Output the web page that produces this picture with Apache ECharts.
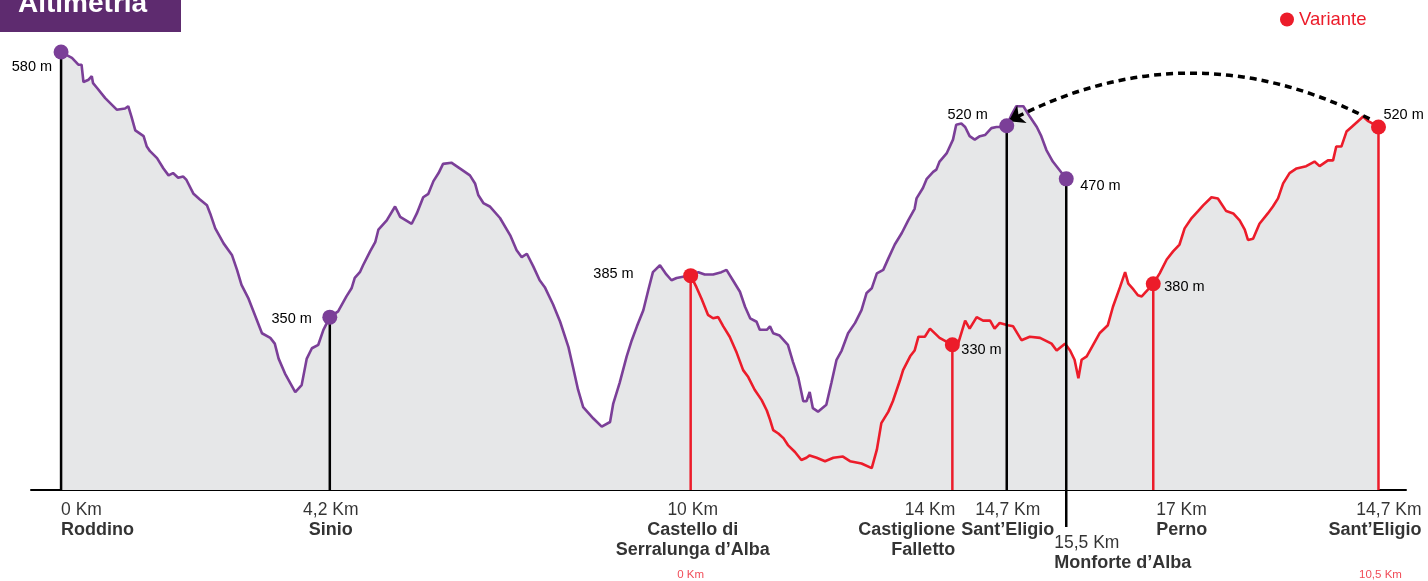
<!DOCTYPE html>
<html><head><meta charset="utf-8">
<script src="https://cdn.jsdelivr.net/npm/echarts@6/dist/echarts.min.js"></script>
<style>html,body{margin:0;padding:0;background:#fff}#c{width:1428px;height:581px}</style>
</head><body><div id="c"></div>
<script>
// ---- DATA (x = distance along the drawn profile in km, y = elevation in m) ----
const mainProfile = [[0,580],[0.17,575],[0.27,569],[0.32,569],[0.35,554],[0.43,556],[0.48,559],[0.50,553],[0.56,549],[0.69,540],[0.87,530],[1.00,531],[1.05,533],[1.10,524],[1.16,512],[1.29,507],[1.34,498],[1.39,494],[1.50,488],[1.60,479],[1.68,473],[1.75,475],[1.83,471],[1.91,472],[1.96,469],[2.07,457],[2.17,452],[2.28,447],[2.33,440],[2.41,427],[2.54,414],[2.67,404],[2.75,391],[2.82,378],[2.93,366],[3.00,356],[3.14,336],[3.27,332],[3.34,327],[3.40,314],[3.50,301],[3.66,285],[3.76,291],[3.84,314],[3.92,323],[4.02,326],[4.10,339],[4.20,350],[4.33,355],[4.46,368],[4.54,375],[4.59,384],[4.67,389],[4.72,395],[4.83,407],[4.91,415],[4.96,426],[5.09,434],[5.22,446],[5.30,437],[5.48,431],[5.56,440],[5.66,454],[5.74,457],[5.82,468],[5.90,475],[5.97,483],[6.10,484],[6.18,481],[6.26,478],[6.39,473],[6.47,466],[6.52,456],[6.60,449],[6.70,446],[6.86,436],[7.02,421],[7.12,408],[7.20,402],[7.28,405],[7.38,394],[7.48,382],[7.56,376],[7.69,361],[7.80,346],[7.93,324],[8.00,307],[8.08,287],[8.16,272],[8.32,262],[8.45,255],[8.58,259],[8.63,275],[8.73,293],[8.84,316],[8.92,330],[9.00,342],[9.10,356],[9.18,374],[9.25,389],[9.36,395],[9.46,387],[9.54,382],[9.62,384],[9.72,385],[9.84,386],[9.96,389],[10.06,387],[10.19,387],[10.32,389],[10.40,391],[10.50,382],[10.61,372],[10.69,359],[10.77,349],[10.87,346],[10.92,339],[11.03,339],[11.08,342],[11.13,336],[11.23,334],[11.36,326],[11.44,311],[11.52,298],[11.60,277],[11.65,277],[11.70,285],[11.75,271],[11.83,268],[11.96,274],[12.04,293],[12.12,313],[12.20,321],[12.30,336],[12.41,345],[12.51,356],[12.59,371],[12.67,375],[12.75,388],[12.85,391],[12.93,401],[13.03,413],[13.14,423],[13.24,434],[13.34,444],[13.37,453],[13.47,462],[13.53,470],[13.63,476],[13.68,478],[13.73,485],[13.84,492],[13.94,504],[13.99,517],[14.07,518],[14.13,515],[14.20,507],[14.28,504],[14.36,507],[14.44,508],[14.54,514],[14.62,515],[14.70,515],[14.78,516],[14.85,525],[14.93,533],[15.04,533],[15.14,524],[15.25,515],[15.32,507],[15.40,495],[15.50,485],[15.64,475],[15.71,470]];

const variantProfile = [[9.84,386],[9.93,376],[10.01,366],[10.06,359],[10.11,352],[10.19,349],[10.27,350],[10.35,342],[10.45,333],[10.56,319],[10.66,304],[10.74,298],[10.84,287],[10.95,278],[11.03,269],[11.08,261],[11.13,252],[11.21,249],[11.29,245],[11.36,239],[11.47,233],[11.57,226],[11.65,228],[11.70,230],[11.81,228],[11.94,225],[12.07,228],[12.22,229],[12.33,225],[12.51,223],[12.67,219],[12.75,235],[12.82,258],[12.93,268],[13.00,277],[13.11,295],[13.16,304],[13.27,316],[13.34,321],[13.40,333],[13.50,333],[13.58,340],[13.73,332],[13.93,326],[14.02,327],[14.13,347],[14.20,340],[14.31,350],[14.41,347],[14.52,347],[14.59,340],[14.67,345],[14.80,343],[14.88,342],[15.01,330],[15.14,333],[15.30,332],[15.48,327],[15.56,321],[15.69,327],[15.77,321],[15.84,313],[15.90,297],[15.95,313],[16.03,316],[16.13,326],[16.23,336],[16.36,343],[16.44,359],[16.55,376],[16.63,389],[16.68,379],[16.76,374],[16.83,369],[16.89,368],[16.99,374],[17.07,379],[17.17,388],[17.28,400],[17.38,407],[17.48,413],[17.56,427],[17.67,436],[17.77,442],[17.85,447],[17.98,454],[18.08,453],[18.21,442],[18.32,440],[18.42,434],[18.50,426],[18.55,417],[18.63,418],[18.73,431],[18.86,440],[18.94,446],[19.02,453],[19.10,466],[19.20,475],[19.31,479],[19.46,481],[19.59,485],[19.67,481],[19.80,486],[19.88,486],[19.93,498],[20.01,498],[20.09,511],[20.17,515],[20.27,520],[20.35,524],[20.43,520],[20.59,515]];

const mainStationX = [0, 4.20, 14.78, 15.71];
const mainStationElev = [580, 350, 516, 470];
const mainElevLabels = ['580 m', '350 m', '520 m', '470 m'];
const variantStationX = [9.84, 13.93, 17.07, 20.59];
const variantStationElev = [386, 326, 379, 515];
const variantElevLabels = ['385 m', '330 m', '380 m', '520 m'];

const placeX = [0, 4.20, 9.84, 13.93, 14.78, 15.71, 17.07, 20.59];
const kmLabels = ['0 Km', '4,2 Km', '10 Km', '14 Km', '14,7 Km', '15,5 Km', '17 Km', '14,7 Km'];
const placeNames = [['Roddino'], ['Sinio'], ['Castello di', 'Serralunga d’Alba'], ['Castiglione', 'Falletto'], ['Sant’Eligio'], ['Monforte d’Alba'], ['Perno'], ['Sant’Eligio']];
const variantKmX = [9.84, 20.59];
const variantKmLabels = ['0 Km', '10,5 Km'];
const transferArc = [[20.45, 522], [14.81, 520]];
const BASE = 200;

// ---- STYLE ----
const PURPLE = '#7b3f98', RED = '#ec1c2a', GREY = '#e6e7e8', INK = '#000', FONT = '"Liberation Sans", Arial, Helvetica, sans-serif';
const mainLabelLayout = [
  {align: 'right', offset: [-9, 15]}, {align: 'right', offset: [-18, 2]},
  {align: 'right', offset: [-19, -11]}, {align: 'left', offset: [14, 7]}];
const variantLabelLayout = [
  {align: 'right', offset: [-57, -2]}, {align: 'left', offset: [9, 5]},
  {align: 'left', offset: [11, 3]}, {align: 'left', offset: [5, -12]}];
const placeLayout = [
  {align: 'left', offset: [0, 10]}, {align: 'center', offset: [1, 10]},
  {align: 'center', offset: [2, 10]}, {align: 'right', offset: [3, 10]},
  {align: 'center', offset: [1, 10]}, {align: 'left', offset: [-12, 43]},
  {align: 'left', offset: [3, 10]}, {align: 'right', offset: [43, 10]}];

const chart = echarts.init(document.getElementById('c'));

const dropSeries = [];
mainStationX.forEach((x, i) => dropSeries.push({
  type: 'line', data: [[x, mainStationElev[i]], [x, i === 3 ? 168 : BASE]], clip: false,
  showSymbol: false, symbol: 'none', silent: true, z: 4, lineStyle: {color: INK, width: 2.5}
}));
variantStationX.forEach((x, i) => dropSeries.push({
  type: 'line', data: [[x, variantStationElev[i]], [x, BASE]], clip: false,
  showSymbol: false, symbol: 'none', silent: true, z: 4, lineStyle: {color: RED, width: 2.5}
}));

const elevLabel = (txt, lay) => ({
  show: true, position: 'inside', formatter: txt, align: lay.align, verticalAlign: 'middle',
  offset: lay.offset, color: INK, fontSize: 14.5, fontFamily: FONT
});

chart.setOption({
  animation: false,
  grid: {left: 31, right: 22, top: 29, bottom: 91},
  xAxis: {type: 'value', min: -0.47, max: 21.02, axisLine: {show: true, lineStyle: {color: INK, width: 2}},
    axisTick: {show: false}, axisLabel: {show: false}, splitLine: {show: false}},
  yAxis: {type: 'value', min: 200, max: 600, show: false, splitLine: {show: false}},
  legend: {data: [{name: 'Variante', icon: 'circle', itemStyle: {color: RED}}], left: 1280, top: 10, padding: 0,
    itemWidth: 14, itemHeight: 14, selectedMode: false, textStyle: {color: RED, fontSize: 18.5, fontFamily: FONT}},
  graphic: [
    {type: 'rect', shape: {x: 0, y: 0, width: 181, height: 32}, style: {fill: '#5e2b6f'}, z: 100},
    {type: 'text', x: 18, y: 4, z: 101, style: {text: 'Altimetria', fill: '#fff', font: 'bold 28px ' + FONT, verticalAlign: 'middle', align: 'left'}}
  ],
  series: [
    {type: 'line', name: 'Principale', data: mainProfile, showSymbol: false, symbol: 'none', z: 2,
      lineStyle: {color: PURPLE, width: 2.6}, itemStyle: {color: PURPLE},
      areaStyle: {color: GREY, opacity: 1, origin: 'start'}},
    {type: 'line', name: 'Variante', data: variantProfile, showSymbol: false, symbol: 'none', z: 3,
      lineStyle: {color: RED, width: 2.6}, itemStyle: {color: RED},
      areaStyle: {color: GREY, opacity: 1, origin: 'start'}},
    ...dropSeries,
    {type: 'lines', coordinateSystem: 'cartesian2d', z: 6, silent: true,
      symbol: ['none', 'arrow'], symbolSize: 15,
      lineStyle: {color: INK, width: 3.5, type: [7, 5], curveness: -0.26, opacity: 1},
      data: [{coords: transferArc}]},
    {type: 'scatter', z: 7, symbolSize: 15, silent: true, itemStyle: {color: PURPLE, opacity: 1},
      data: mainStationX.map((x, i) => ({value: [x, mainStationElev[i]], label: elevLabel(mainElevLabels[i], mainLabelLayout[i])}))},
    {type: 'scatter', z: 7, symbolSize: 15, silent: true, itemStyle: {color: RED, opacity: 1},
      data: variantStationX.map((x, i) => ({value: [x, variantStationElev[i]], label: elevLabel(variantElevLabels[i], variantLabelLayout[i])}))},
    {type: 'scatter', z: 7, symbolSize: 0, silent: true, clip: false,
      data: placeX.map((x, i) => ({
        value: [x, BASE],
        label: {show: true, position: 'inside', align: placeLayout[i].align, verticalAlign: 'top',
          offset: placeLayout[i].offset, lineHeight: 20, fontFamily: FONT, color: INK,
          formatter: ['{k|' + kmLabels[i] + '}'].concat(placeNames[i].map(n => '{n|' + n + '}')).join('\n'),
          rich: {k: {fontSize: 17.5, color: INK, lineHeight: 20, fontFamily: FONT, align: placeLayout[i].align},
                 n: {fontSize: 18, fontWeight: 'bold', color: INK, lineHeight: 20, fontFamily: FONT, align: placeLayout[i].align}}}
      }))},
    {type: 'scatter', z: 7, symbolSize: 0, silent: true, clip: false,
      data: variantKmX.map((x, i) => ({
        value: [x, BASE],
        label: {show: true, position: 'inside', align: 'center', verticalAlign: 'middle', offset: [i ? 2 : 0, 85],
          formatter: variantKmLabels[i], color: RED, fontSize: 11.5, fontFamily: FONT}
      }))}
  ]
});
</script></body></html>
